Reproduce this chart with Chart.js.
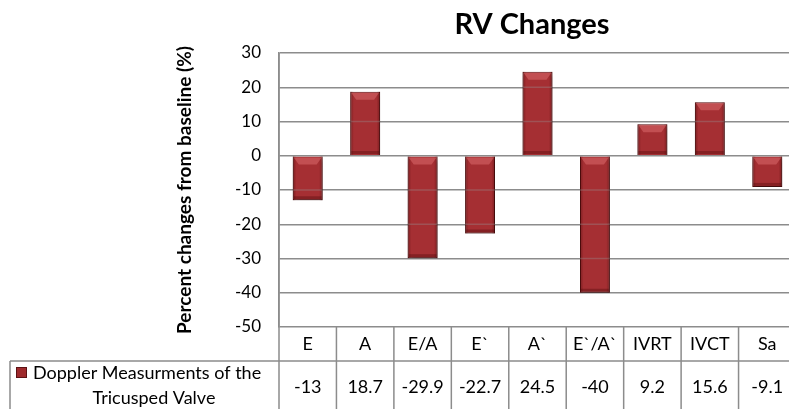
<!DOCTYPE html>
<html>
<head>
<meta charset="utf-8">
<script src="https://cdn.jsdelivr.net/npm/chart.js@4"></script>
<style>
  html, body { margin: 0; padding: 0; background: #fff; overflow: hidden; }
  #wrap { width: 800px; height: 409px; position: relative; }
</style>
</head>
<body>
<div id="wrap"><canvas id="chart"></canvas></div>
<script>
// RV Changes - Excel style column chart with data table underneath

const categories = ['E', 'A', 'E/A', 'E`', 'A`', 'E`/A`', 'IVRT', 'IVCT', 'Sa'];
const values = [-13, 18.7, -29.9, -22.7, 24.5, -40, 9.2, 15.6, -9.1];
const valueLabels = ['-13', '18.7', '-29.9', '-22.7', '24.5', '-40', '9.2', '15.6', '-9.1'];
const seriesLines = ['Doppler Measurments of the', 'Tricusped Valve'];
const yMin = -50, yMax = 30, yStep = 10;

const FONT = 'Lato, "Open Sans", sans-serif';
const GRID = '#8c8c8c';

// drop shadow for the bars, like the Excel preset
const shadowPlugin = {
  id: 'shadow',
  beforeDatasetsDraw(chart) {
    const ctx = chart.ctx;
    ctx.save();
    ctx.shadowColor = 'rgba(0,0,0,0.4)';
    ctx.shadowBlur = 5;
    ctx.shadowOffsetX = 1;
    ctx.shadowOffsetY = 3;
  },
  afterDatasetsDraw(chart) {
    const ctx = chart.ctx;
    ctx.restore();
    const ys = chart.scales.y;
    // bevel shading on each bar
    const meta = chart.getDatasetMeta(0);
    meta.data.forEach(bar => {
      const w = bar.width;
      const x0 = bar.x - w / 2;
      const top = Math.min(bar.y, bar.base);
      const bottom = Math.max(bar.y, bar.base);
      const h = bottom - top;
      ctx.save();
      const g = ctx.createLinearGradient(x0, 0, x0 + w, 0);
      g.addColorStop(0, 'rgba(60,0,0,0.4)');
      g.addColorStop(0.12, 'rgba(60,0,0,0.0)');
      g.addColorStop(0.88, 'rgba(60,0,0,0.0)');
      g.addColorStop(1, 'rgba(60,0,0,0.4)');
      ctx.fillStyle = g;
      ctx.fillRect(x0, top, w, h);
      // lighter top bevel
      const bh = Math.min(8, h / 2);
      ctx.beginPath();
      ctx.moveTo(x0 + 1, top + 1);
      ctx.lineTo(x0 + w - 1, top + 1);
      ctx.lineTo(x0 + w - 6, top + bh);
      ctx.lineTo(x0 + 6, top + bh);
      ctx.closePath();
      ctx.fillStyle = 'rgba(230,120,120,0.45)';
      ctx.fill();
      // darker bottom edge
      ctx.fillStyle = 'rgba(60,0,0,0.3)';
      ctx.fillRect(x0 + 1, bottom - 4, w - 2, 3);
      // faint gridlines showing through the bar
      ctx.strokeStyle = 'rgba(150,150,150,0.35)';
      ctx.lineWidth = 1.5;
      ys.ticks.forEach(t => {
        const y = ys.getPixelForValue(t.value);
        if (y > top + 2 && y < bottom - 2) {
          ctx.beginPath();
          ctx.moveTo(x0, y);
          ctx.lineTo(x0 + w, y);
          ctx.stroke();
        }
      });
      ctx.restore();
    });
  }
};

// title, axis title and the data table below the plot
const tablePlugin = {
  id: 'table',
  afterDraw(chart) {
    const ctx = chart.ctx;
    const area = chart.chartArea;
    const xs = chart.scales.x;
    const colW = (area.right - area.left) / categories.length;
    const rowTop = area.bottom;
    const rowMid = 361;
    const rowEnd = 420;
    const tableLeft = 10;

    ctx.save();
    // title
    ctx.fillStyle = '#000';
    ctx.font = 'bold 29px ' + FONT;
    ctx.textAlign = 'center';
    ctx.textBaseline = 'middle';
    ctx.fillText('RV Changes', 532, 25);

    // y axis title
    ctx.save();
    ctx.translate(185, (area.top + area.bottom) / 2);
    ctx.rotate(-Math.PI / 2);
    ctx.font = 'bold 19px ' + FONT;
    ctx.fillText('Percent changes from baseline (%)', 0, 0);
    ctx.restore();

    // lines
    ctx.strokeStyle = GRID;
    ctx.lineWidth = 1.5;
    ctx.beginPath();
    ctx.moveTo(area.left, area.top);
    ctx.lineTo(area.left, rowEnd);
    ctx.moveTo(tableLeft, rowMid);
    ctx.lineTo(area.right, rowMid);
    ctx.moveTo(tableLeft, rowMid);
    ctx.lineTo(tableLeft, rowEnd);
    for (let i = 1; i <= categories.length; i++) {
      const x = area.left + i * colW;
      ctx.moveTo(x, rowTop);
      ctx.lineTo(x, rowEnd);
    }
    ctx.stroke();

    // category and value cells
    ctx.fillStyle = '#000';
    ctx.font = '18px ' + FONT;
    ctx.textAlign = 'center';
    categories.forEach((c, i) => {
      const x = xs.getPixelForValue(i);
      ctx.fillText(c, x, (rowTop + rowMid) / 2);
      ctx.fillText(valueLabels[i], x, 387);
    });

    // legend key + series name
    ctx.fillStyle = '#9e2a2c';
    ctx.fillRect(16, 367, 11, 11);
    ctx.strokeStyle = '#5c1214';
    ctx.lineWidth = 1;
    ctx.strokeRect(16.5, 367.5, 10, 10);
    ctx.fillStyle = '#000';
    ctx.textAlign = 'left';
    ctx.fillText(seriesLines[0], 33, 373);
    ctx.textAlign = 'center';
    ctx.fillText(seriesLines[1], 154, 398);
    ctx.restore();
  }
};

new Chart(document.getElementById('chart'), {
  type: 'bar',
  data: {
    labels: categories,
    datasets: [{
      label: seriesLines.join(' '),
      data: values,
      backgroundColor: '#a52f33',
      borderColor: '#5e1214',
      borderWidth: 1,
      categoryPercentage: 1,
      barPercentage: 0.52
    }]
  },
  options: {
    responsive: true,
    maintainAspectRatio: false,
    animation: false,
    layout: { padding: { top: 53, right: 4, bottom: 82, left: 0 } },
    plugins: {
      legend: { display: false },
      tooltip: { enabled: false },
      title: { display: false }
    },
    scales: {
      x: { display: false },
      y: {
        min: yMin,
        max: yMax,
        ticks: {
          stepSize: yStep,
          padding: 18,
          color: '#000',
          font: { family: FONT, size: 17 }
        },
        grid: { color: GRID, lineWidth: 1.5, drawTicks: false },
        border: { display: true, color: GRID, width: 1.5 },
        afterFit(scale) { scale.width = 279; }
      }
    }
  },
  plugins: [shadowPlugin, tablePlugin]
});
</script>
</body>
</html>
